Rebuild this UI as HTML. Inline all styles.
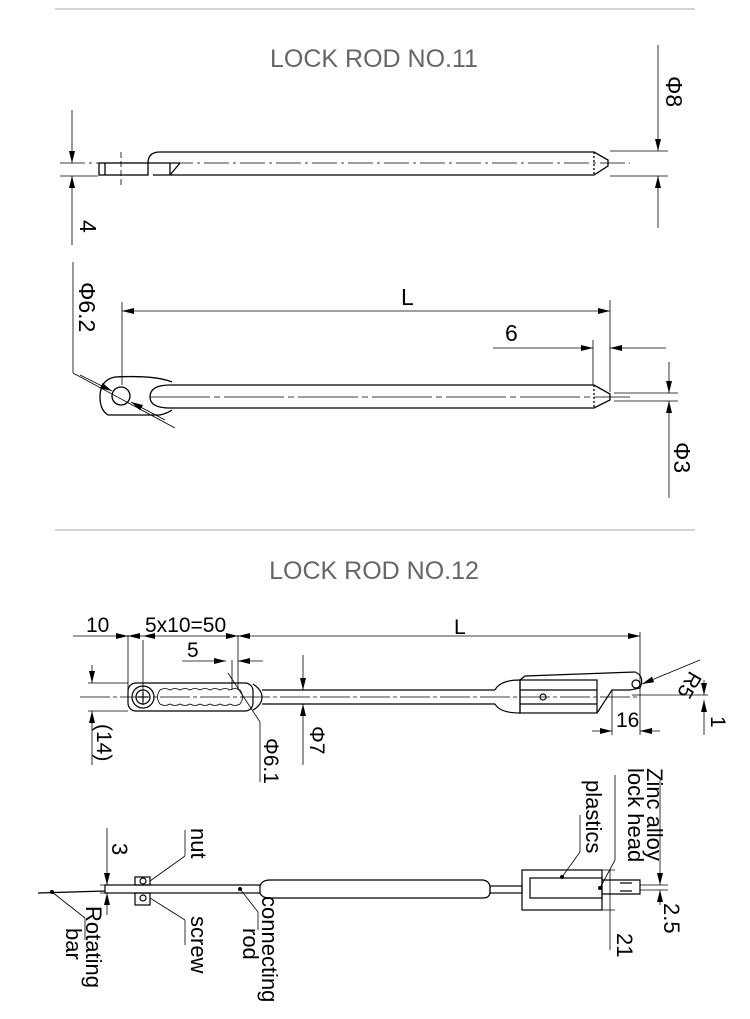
<!DOCTYPE html>
<html><head><style>
html,body{margin:0;padding:0;background:#fff;}
svg{display:block;font-family:"Liberation Sans",sans-serif;}
</style></head><body>
<svg width="750" height="1019" viewBox="0 0 750 1019" xmlns="http://www.w3.org/2000/svg">
<defs>
<marker id="a" viewBox="0 0 12 6" refX="12" refY="3" markerWidth="12" markerHeight="6" orient="auto-start-reverse" markerUnits="userSpaceOnUse"><path d="M0,0 L12,3 L0,6z" fill="#000"/></marker>
</defs>
<g stroke="#bbb" stroke-width="1.2">
<line x1="55" y1="9" x2="695" y2="9"/>
<line x1="55" y1="530" x2="695" y2="530"/>
</g>
<g fill="#666" font-size="25" text-anchor="middle">
<text x="374" y="67">LOCK ROD NO.11</text>
<text x="374" y="579">LOCK ROD NO.12</text>
</g>

<!-- ROD 11 top view -->
<g stroke="#000" stroke-width="1.3" fill="none">
<path d="M160,152 L594,152 L608,160 L608,166 L594,175 L153,175"/>
<path d="M160,152 Q148,152 148,163"/>
<rect x="99" y="163" width="49" height="12"/>
<line x1="105" y1="163" x2="105" y2="175"/>
<line x1="170" y1="163" x2="170" y2="175"/>
<line x1="170" y1="175" x2="180" y2="163"/>
<line x1="594" y1="152" x2="594" y2="175" stroke-dasharray="2,2"/>
<line x1="148" y1="163" x2="180" y2="163"/>
</g>
<g stroke="#000" stroke-width="0.8" fill="none">
<line x1="60" y1="163" x2="630" y2="163" stroke-dasharray="25,4,3,4"/>
<line x1="60" y1="176" x2="98" y2="176"/>
<line x1="121" y1="152" x2="121" y2="185" stroke-dasharray="6,3"/>
<line x1="72" y1="110" x2="72" y2="163" marker-end="url(#a)"/>
<line x1="72" y1="245" x2="72" y2="176" marker-end="url(#a)"/>
<line x1="610" y1="151" x2="668" y2="151"/>
<line x1="610" y1="176" x2="668" y2="176"/>
<line x1="658" y1="45" x2="658" y2="151" marker-end="url(#a)"/>
<line x1="658" y1="228" x2="658" y2="176" marker-end="url(#a)"/>
</g>
<g font-size="23" fill="#000">
<text transform="translate(80,220) rotate(90)">4</text>
<text transform="translate(666,76) rotate(90)">Φ8</text>
</g>

<!-- ROD 11 side view -->
<g stroke="#000" stroke-width="1.3" fill="none">
<path d="M170,385 L594,385 L610,394 L610,400 L594,408 L170,408"/>
<path d="M170,385 Q150,385 150,397 Q150,408 170,408"/>
<path d="M172,382 Q155,375 115,377 Q100,380 100,397 Q100,410 108,415 L160,415 Q168,413 172,410"/>
<circle cx="121" cy="396" r="9"/>
<line x1="594" y1="385" x2="594" y2="408" stroke-dasharray="2,2"/>
</g>
<g stroke="#000" stroke-width="0.8" fill="none">
<line x1="150" y1="397" x2="630" y2="397" stroke-dasharray="60,4,6,4"/>
<line x1="122" y1="302" x2="122" y2="385"/>
<line x1="610" y1="300" x2="610" y2="392"/>
<line x1="593" y1="340" x2="593" y2="385"/>
<line x1="122" y1="311" x2="610" y2="311" marker-start="url(#a)" marker-end="url(#a)"/>
<line x1="493" y1="348" x2="593" y2="348" marker-end="url(#a)"/>
<line x1="666" y1="348" x2="610" y2="348" marker-end="url(#a)"/>
<line x1="614" y1="393" x2="678" y2="393"/>
<line x1="614" y1="401" x2="678" y2="401"/>
<line x1="669" y1="362" x2="669" y2="393" marker-end="url(#a)"/>
<line x1="669" y1="498" x2="669" y2="401" marker-end="url(#a)"/>
<line x1="73" y1="262" x2="73" y2="373"/>
<line x1="73" y1="373" x2="175" y2="428"/>
<line x1="80" y1="375" x2="112" y2="391" marker-end="url(#a)"/>
<line x1="165" y1="420" x2="131" y2="402" marker-end="url(#a)"/>
</g>
<g font-size="23" fill="#000">
<text x="401" y="305">L</text>
<text x="505" y="341">6</text>
<text transform="translate(79,282) rotate(90)">Φ6.2</text>
<text transform="translate(674,442) rotate(90)">Φ3</text>
</g>

<!-- ROD 12 top view -->
<g stroke="#000" stroke-width="1.2" fill="none">
<rect x="128" y="683" width="125" height="28" rx="8"/>
<circle cx="143" cy="697" r="11"/>
<circle cx="143" cy="697" r="7"/>
<line x1="138" y1="697" x2="148" y2="697"/>
<line x1="143" y1="692" x2="143" y2="702"/>
<path d="M160,690 q5,-3 10,0 q5,-3 10,0 q5,-3 10,0 q5,-3 10,0 q5,-3 10,0 q5,-3 10,0 q5,-3 10,0 q5,-3 10,0 q5,7 0,14 q-5,3 -10,0 q-5,3 -10,0 q-5,3 -10,0 q-5,3 -10,0 q-5,3 -10,0 q-5,3 -10,0 q-5,3 -10,0 q-5,3 -10,0 q-5,-7 0,-14z" stroke-width="0.8"/>
<path d="M253,684 Q262,690 262,697 Q262,705 253,710"/>
<line x1="262" y1="690" x2="495" y2="690"/>
<line x1="262" y1="704" x2="495" y2="704"/>
<path d="M495,690 Q500,680 520,680 L520,713 Q500,713 495,704"/>
<rect x="520" y="680" width="77" height="33"/>
<line x1="520" y1="690" x2="597" y2="690"/>
<line x1="520" y1="704" x2="597" y2="704"/>
<path d="M520,680 L525,676 L635,672 Q645,676 640,688 L630,690 L612,690 L597,713"/>
<circle cx="636" cy="684" r="4"/>
<circle cx="543" cy="697" r="3"/>
</g>
<g stroke="#000" stroke-width="0.8" fill="none">
<line x1="80" y1="697" x2="640" y2="697" stroke-dasharray="30,3,4,3"/>
<line x1="128" y1="635" x2="128" y2="690"/>
<line x1="143" y1="640" x2="143" y2="705"/>
<line x1="238" y1="635" x2="238" y2="690"/>
<line x1="232" y1="660" x2="232" y2="690"/>
<line x1="640" y1="632" x2="640" y2="700"/>
<line x1="73" y1="636" x2="128" y2="636" marker-end="url(#a)"/>
<line x1="143" y1="636" x2="128" y2="636" marker-end="url(#a)"/>
<line x1="143" y1="636" x2="238" y2="636" marker-start="url(#a)" marker-end="url(#a)"/>
<line x1="238" y1="636" x2="640" y2="636" marker-start="url(#a)" marker-end="url(#a)"/>
<line x1="182" y1="661" x2="226" y2="661" marker-end="url(#a)"/>
<line x1="263" y1="661" x2="238" y2="661" marker-end="url(#a)"/>
<line x1="88" y1="683" x2="128" y2="683"/>
<line x1="88" y1="711" x2="128" y2="711"/>
<line x1="92" y1="665" x2="92" y2="683" marker-end="url(#a)"/>
<line x1="92" y1="765" x2="92" y2="711" marker-end="url(#a)"/>
<line x1="303" y1="655" x2="303" y2="690" marker-end="url(#a)"/>
<line x1="303" y1="765" x2="303" y2="704" marker-end="url(#a)"/>
<line x1="228" y1="673" x2="260" y2="722"/>
<line x1="260" y1="722" x2="260" y2="782"/>
<line x1="700" y1="660" x2="642" y2="684" marker-end="url(#a)"/>
<line x1="632" y1="695" x2="708" y2="695"/>
<line x1="640" y1="700" x2="640" y2="735"/>
<line x1="612" y1="690" x2="612" y2="735"/>
<line x1="592" y1="731" x2="612" y2="731" marker-end="url(#a)"/>
<line x1="660" y1="731" x2="640" y2="731" marker-end="url(#a)"/>
<line x1="704" y1="680" x2="704" y2="695" marker-end="url(#a)"/>
<line x1="704" y1="735" x2="704" y2="700" marker-end="url(#a)"/>
</g>
<g font-size="21" fill="#000">
<text x="86" y="632">10</text>
<text x="145" y="632">5x10=50</text>
<text x="454" y="634">L</text>
<text x="187" y="657">5</text>
<text x="616" y="727">16</text>
<text transform="translate(97,724) rotate(90)">(14)</text>
<text transform="translate(310,726) rotate(90)">Φ7</text>
<text transform="translate(264,738) rotate(90)">Φ6.1</text>
<text transform="translate(711,716) rotate(90)">1</text>
<text transform="translate(690,670) rotate(120)">R5</text>
</g>

<!-- ROD 12 side view -->
<g stroke="#000" stroke-width="1.2" fill="none">
<line x1="38" y1="893" x2="105" y2="891"/>
<rect x="105" y="885" width="155" height="8"/>
<path d="M260,886 Q262,880 270,880 L483,880 Q489,881 490,886 L490,893 Q489,898 483,898 L270,898 Q262,898 260,893"/>
<rect x="490" y="886" width="32" height="7"/>
<rect x="522" y="870" width="80" height="40"/>
<rect x="530" y="878" width="72" height="20"/>
<path d="M602,880 L640,880 L640,894 L602,894"/>
<line x1="620" y1="883" x2="632" y2="883"/>
<line x1="620" y1="891" x2="632" y2="891"/>
<rect x="135" y="877" width="15" height="8"/>
<rect x="135" y="893" width="15" height="12"/>
<circle cx="143" cy="881" r="3"/>
<circle cx="143" cy="898" r="3"/>
</g>
<g stroke="#000" stroke-width="0.8" fill="none">
<line x1="107" y1="828" x2="107" y2="885" marker-end="url(#a)"/>
<line x1="107" y1="915" x2="107" y2="893" marker-end="url(#a)"/>
<line x1="100" y1="885" x2="135" y2="885"/>
<line x1="100" y1="893" x2="135" y2="893"/>
<line x1="150" y1="881" x2="185" y2="856"/><line x1="185" y1="856" x2="185" y2="830"/>
<line x1="150" y1="898" x2="185" y2="920"/><line x1="185" y1="920" x2="185" y2="945"/>
<line x1="52" y1="892" x2="85" y2="918"/><line x1="85" y1="918" x2="85" y2="940"/>
<line x1="240" y1="889" x2="258" y2="912"/><line x1="258" y1="912" x2="258" y2="930"/>
<line x1="562" y1="877" x2="580" y2="852"/><line x1="580" y1="852" x2="580" y2="815"/>
<line x1="600" y1="888" x2="615" y2="860"/><line x1="615" y1="860" x2="615" y2="775"/>
<line x1="596" y1="870" x2="615" y2="870"/>
<line x1="596" y1="910" x2="615" y2="910"/>
<line x1="610" y1="870" x2="610" y2="950"/>
<line x1="640" y1="885" x2="668" y2="885"/>
<line x1="640" y1="890" x2="668" y2="890"/>
<line x1="660" y1="868" x2="660" y2="885" marker-end="url(#a)"/>
<line x1="660" y1="905" x2="660" y2="890" marker-end="url(#a)"/>
<line x1="660" y1="780" x2="660" y2="868"/>
</g>
<g fill="#000"><circle cx="52" cy="892" r="2"/><circle cx="240" cy="889" r="2"/><circle cx="562" cy="877" r="2"/><circle cx="600" cy="888" r="2"/></g>
<g font-size="22" fill="#000">
<text transform="translate(112,843) rotate(90)">3</text>
<text transform="translate(191,828) rotate(90)">nut</text>
<text transform="translate(191,916) rotate(90)">screw</text>
<text transform="translate(86,906) rotate(90)">Rotating</text>
<text transform="translate(66,928) rotate(90)">bar</text>
<text transform="translate(262,896) rotate(90)">connecting</text>
<text transform="translate(243,928) rotate(90)">rod</text>
<text transform="translate(586,780) rotate(90)">plastics</text>
<text transform="translate(647,768) rotate(90)">Zinc alloy</text>
<text transform="translate(628,768) rotate(90)">lock head</text>
<text transform="translate(664,903) rotate(90)">2.5</text>
<text transform="translate(617,933) rotate(90)">21</text>
</g>
</svg>
</body></html>
